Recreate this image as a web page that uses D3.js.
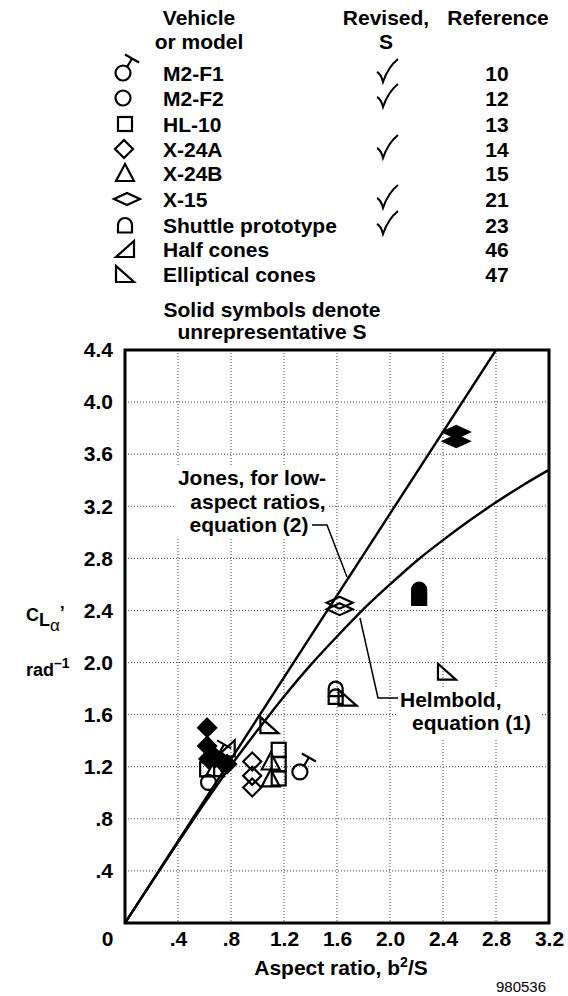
<!DOCTYPE html>
<html><head><meta charset="utf-8">
<script src="https://cdn.jsdelivr.net/npm/d3@7"></script>
<style>
body{margin:0;background:#fff;}
svg{display:block;font-family:"Liberation Sans",Arial,Helvetica,sans-serif;font-weight:bold;}
</style></head><body>
<svg id="chart" width="568" height="996"></svg>
<script>
// ---------- data ----------
const xTicks = [0, 0.4, 0.8, 1.2, 1.6, 2.0, 2.4, 2.8, 3.2];
const xTickLabels = ["0", ".4", ".8", "1.2", "1.6", "2.0", "2.4", "2.8", "3.2"];
const yTicks = [0.4, 0.8, 1.2, 1.6, 2.0, 2.4, 2.8, 3.2, 3.6, 4.0, 4.4];
const yTickLabels = [".4", ".8", "1.2", "1.6", "2.0", "2.4", "2.8", "3.2", "3.6", "4.0", "4.4"];

const vehicles = ["M2-F1", "M2-F2", "HL-10", "X-24A", "X-24B", "X-15", "Shuttle prototype", "Half cones", "Elliptical cones"];
const vehicleSymbols = ["m2f1", "circle", "square", "diamond", "triangle", "wideDiamond", "shuttle", "halfCone", "ellipticalCone"];
const revisedS = [true, true, false, true, false, true, true, false, false];
const references = ["10", "12", "13", "14", "15", "21", "23", "46", "47"];

// measured points (aspect ratio, lift-curve slope per rad)
const ptSymbol = ["m2f1", "circle", "square",
  "square", "square", "square",
  "diamond", "diamond", "diamond",
  "triangle", "triangle", "triangle",
  "ellipticalCone", "ellipticalCone", "ellipticalCone",
  "halfCone", "m2f1",
  "diamond", "diamond", "diamond", "diamond", "diamond", "diamond",
  "wideDiamond", "wideDiamond", "wideDiamond", "wideDiamond",
  "shuttle", "shuttle", "shuttle", "shuttle"];
const ptAR = [1.32, 0.63, 0.62,
  1.16, 1.16, 1.16,
  0.96, 0.96, 0.96,
  1.10, 1.10, 0.68,
  1.09, 1.68, 2.43,
  0.76, 0.68,
  0.62, 0.62, 0.63, 0.68, 0.73, 0.77,
  1.62, 1.62, 2.50, 2.50,
  1.59, 1.59, 2.22, 2.22];
const ptCL = [1.16, 1.08, 1.18,
  1.33, 1.22, 1.11,
  1.24, 1.13, 1.04,
  1.24, 1.11, 1.19,
  1.52, 1.73, 1.93,
  1.34, 1.26,
  1.50, 1.36, 1.26, 1.27, 1.24, 1.22,
  2.46, 2.41, 3.77, 3.70,
  1.80, 1.74, 2.56, 2.50];
const ptSolid = [false, false, false,
  false, false, false,
  false, false, false,
  false, false, false,
  false, false, false,
  false, true,
  true, true, true, true, true, true,
  false, false, true, true,
  false, false, true, true];

// theory curves
const jonesAR = [0, 2.8];
const jonesCL = [0, 4.40];
const helmAR = [0, 0.2, 0.4, 0.6, 0.8, 1.0, 1.2, 1.4, 1.6, 1.8, 2.0, 2.2, 2.4, 2.6, 2.8, 3.0, 3.2];
const helmCL = [0, 0.31, 0.62, 0.92, 1.21, 1.48, 1.74, 1.98, 2.20, 2.41, 2.60, 2.78, 2.94, 3.09, 3.23, 3.36, 3.48];

// ---------- drawing ----------
const svg = d3.select("#chart");
const L = 125, R = 549, T = 350, B = 923;
const x = d3.scaleLinear().domain([0, 3.2]).range([L, R]);
const y = d3.scaleLinear().domain([0, 4.4]).range([B, T]);
const FS = 21;

// grid
const grid = svg.append("g").attr("stroke", "#444").attr("stroke-width", 1).attr("stroke-dasharray", "1,2");
grid.selectAll("line.v").data(xTicks.filter(d => d > 0 && d < 3.2)).join("line")
  .attr("x1", d => x(d)).attr("x2", d => x(d)).attr("y1", T).attr("y2", B);
grid.selectAll("line.h").data(yTicks.filter(d => d < 4.4)).join("line")
  .attr("y1", d => y(d)).attr("y2", d => y(d)).attr("x1", L).attr("x2", R);

// annotation white boxes
svg.append("rect").attr("x", 176).attr("y", 467).attr("width", 152).attr("height", 70).attr("fill", "#fff");
svg.append("rect").attr("x", 398).attr("y", 687).attr("width", 142).attr("height", 52).attr("fill", "#fff");

// curves
const clip = svg.append("clipPath").attr("id", "pc").append("rect")
  .attr("x", L).attr("y", T).attr("width", R - L).attr("height", B - T);
const lineGen = d3.line().x(d => x(d[0])).y(d => y(d[1]));
svg.append("path").datum(jonesAR.map((a, i) => [a, jonesCL[i]]))
  .attr("d", lineGen).attr("fill", "none").attr("stroke", "#000").attr("stroke-width", 2.4)
  .attr("clip-path", "url(#pc)");
svg.append("path").datum(helmAR.map((a, i) => [a, helmCL[i]]))
  .attr("d", lineGen.curve(d3.curveMonotoneX)).attr("fill", "none").attr("stroke", "#000").attr("stroke-width", 2.4)
  .attr("clip-path", "url(#pc)");

// symbols
function drawSymbol(g, key, cx, cy, solid) {
  const s = g.append("g").attr("transform", `translate(${cx},${cy})`)
    .attr("stroke", "#000").attr("stroke-width", 2.2).attr("fill", solid ? "#000" : "none")
    .attr("stroke-linejoin", "miter");
  switch (key) {
    case "circle":
      s.append("circle").attr("r", 7.5); break;
    case "m2f1":
      s.append("circle").attr("r", 7.5);
      s.append("line").attr("x1", 4.2).attr("y1", -6.2).attr("x2", 9).attr("y2", -14.5);
      s.append("line").attr("x1", 2).attr("y1", -18.5).attr("x2", 16).attr("y2", -10.5);
      break;
    case "square":
      s.append("rect").attr("x", -7).attr("y", -7).attr("width", 14).attr("height", 14); break;
    case "diamond":
      s.append("path").attr("d", "M0,-9L9,0L0,9L-9,0Z"); break;
    case "triangle":
      s.append("path").attr("d", "M0,-9L9,8L-9,8Z"); break;
    case "wideDiamond":
      s.append("path").attr("d", "M0,-6L13,0L0,6L-13,0Z"); break;
    case "shuttle":
      s.append("path").attr("d", "M-7,7.5L-7,0A7,7 0 0 1 7,0L7,7.5Z"); break;
    case "halfCone":
      s.append("path").attr("d", "M-9,8L9,8L9,-8Z"); break;
    case "ellipticalCone":
      s.append("path").attr("d", "M-9,-8L-9,8L9,8Z"); break;
  }
}
const symG = svg.append("g");
ptSymbol.forEach((k, i) => drawSymbol(symG, k, x(ptAR[i]), y(ptCL[i]), ptSolid[i]));

// frame
svg.append("rect").attr("x", L).attr("y", T).attr("width", R - L).attr("height", B - T)
  .attr("fill", "none").attr("stroke", "#000").attr("stroke-width", 3);

// axes
const xAxis = d3.axisBottom(x).tickValues(xTicks).tickFormat((d, i) => xTickLabels[i]).tickSize(0).tickPadding(8);
const xg = svg.append("g").attr("transform", `translate(0,${B})`).call(xAxis);
xg.select(".domain").remove();
xg.selectAll("text").attr("font-size", FS).attr("font-family", "'Liberation Sans',Arial,sans-serif")
  .attr("font-weight", "bold").attr("fill", "#000");
xg.selectAll(".tick").filter(d => d === 0).select("text").attr("text-anchor", "end").attr("x", -12);

const yAxis = d3.axisLeft(y).tickValues(yTicks).tickFormat((d, i) => yTickLabels[i]).tickSize(0).tickPadding(12);
const yg = svg.append("g").attr("transform", `translate(${L},0)`).call(yAxis);
yg.select(".domain").remove();
yg.selectAll("text").attr("font-size", FS).attr("font-family", "'Liberation Sans',Arial,sans-serif")
  .attr("font-weight", "bold").attr("fill", "#000");

// axis titles
const xt = svg.append("text").attr("x", 341).attr("y", 975).attr("text-anchor", "middle").attr("font-size", FS);
xt.append("tspan").text("Aspect ratio, b");
xt.append("tspan").attr("font-size", 14).attr("dy", -8).text("2");
xt.append("tspan").attr("dy", 8).text("/S");

const yt = svg.append("text").attr("x", 26).attr("y", 621).attr("font-size", 18);
yt.append("tspan").text("C");
yt.append("tspan").attr("dy", 5).text("L");
yt.append("tspan").attr("dy", 5).attr("font-size", 17).attr("font-weight", "normal").text("α");
yt.append("tspan").attr("dy", -12).text("’");
const yt2 = svg.append("text").attr("x", 26).attr("y", 676).attr("font-size", 18);
yt2.append("tspan").text("rad");
yt2.append("tspan").attr("font-size", 14).attr("dy", -8).text("–1");

svg.append("text").attr("x", 496).attr("y", 992).attr("font-size", 15).attr("font-weight", "normal").text("980536");

// annotations
const jt = svg.append("text").attr("font-size", FS).attr("text-anchor", "middle");
jt.append("tspan").attr("x", 252).attr("y", 485).text("Jones, for low-");
jt.append("tspan").attr("x", 258).attr("y", 509).text("aspect ratios,");
jt.append("tspan").attr("x", 249).attr("y", 532).text("equation (2)");
svg.append("path").attr("d", "M312,525L327,525L347,577").attr("fill", "none").attr("stroke", "#000").attr("stroke-width", 1.5);

svg.append("text").attr("x", 400).attr("y", 707).attr("font-size", FS).text("Helmbold,");
svg.append("text").attr("x", 412).attr("y", 730).attr("font-size", FS).text("equation (1)");
svg.append("path").attr("d", "M398,698L378,698L360,618").attr("fill", "none").attr("stroke", "#000").attr("stroke-width", 1.5);

// legend
const lg = svg.append("g");
lg.append("text").attr("x", 199).attr("y", 25).attr("text-anchor", "middle").attr("font-size", FS).text("Vehicle");
lg.append("text").attr("x", 199).attr("y", 49).attr("text-anchor", "middle").attr("font-size", FS).text("or model");
lg.append("text").attr("x", 386).attr("y", 25).attr("text-anchor", "middle").attr("font-size", FS).text("Revised,");
lg.append("text").attr("x", 386).attr("y", 49).attr("text-anchor", "middle").attr("font-size", FS).text("S");
lg.append("text").attr("x", 498).attr("y", 25).attr("text-anchor", "middle").attr("font-size", FS).text("Reference");

const rowBase = [81, 106, 132, 157, 181, 207, 233, 257, 282];
const symOffsetX = [123, 123, 125, 124, 125, 127, 125, 125, 125];
vehicles.forEach((v, i) => {
  const b = rowBase[i];
  lg.append("text").attr("x", 163).attr("y", b).attr("font-size", FS).text(v);
  lg.append("text").attr("x", 497).attr("y", b).attr("text-anchor", "middle").attr("font-size", FS).text(references[i]);
  drawSymbol(lg, vehicleSymbols[i], symOffsetX[i], b - 8, false);
  if (revisedS[i]) {
    lg.append("path").attr("transform", `translate(0,${b})`)
      .attr("d", "M377,-9Q381,-7 383,1Q388,-14 398,-22").attr("fill", "none")
      .attr("stroke", "#000").attr("stroke-width", 2);
  }
});
lg.append("text").attr("x", 272).attr("y", 317).attr("text-anchor", "middle").attr("font-size", FS).text("Solid symbols denote");
lg.append("text").attr("x", 272).attr("y", 339).attr("text-anchor", "middle").attr("font-size", FS).text("unrepresentative S");
</script>
</body></html>
